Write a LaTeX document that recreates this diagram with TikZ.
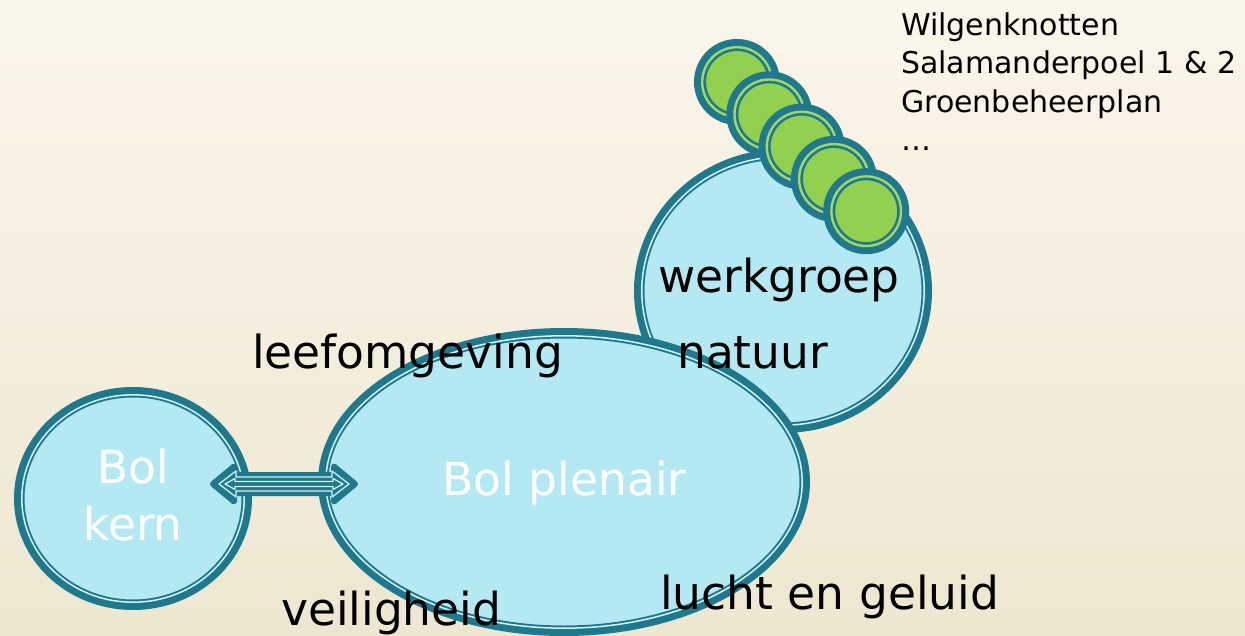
\documentclass[tikz,border=0pt]{standalone}
\usepackage{fontspec}
\setmainfont{DejaVu Sans}
\usetikzlibrary{shapes.geometric,calc}
\definecolor{bgtop}{RGB}{251,246,235}
\definecolor{bgbot}{RGB}{237,231,209}
\definecolor{tealring}{RGB}{31,120,139}
\definecolor{bluefill}{RGB}{180,233,244}
\definecolor{ringlight}{RGB}{212,244,250}
\definecolor{leaf}{RGB}{146,208,80}
\begin{document}
\begin{tikzpicture}[x=1pt,y=-1pt,
  bubble/.style={ellipse, inner sep=0pt, outer sep=0pt, fill=bluefill, draw=tealring, line width=10.5pt},
  seed/.style={circle, inner sep=0pt, outer sep=0pt, fill=leaf, draw=tealring, line width=12pt, minimum size=74pt},
  innerring/.style={draw=ringlight, line width=1.5pt},
  seedring/.style={draw=leaf!85!white, line width=2.4pt},
  bigtext/.style={font=\fontsize{45.5}{57}\selectfont, inner sep=0pt},
  whitetext/.style={bigtext, text=white},
  blacktext/.style={bigtext, text=black},
  listtext/.style={font=\fontsize{30}{38.5}\selectfont, inner sep=0pt, align=left, text=black},
  arrowbody/.style={draw=tealring, fill=tealring, line width=6pt, line join=round},
  arrowline/.style={draw=ringlight, line width=1.3pt, line join=round}
]
% background
\shade[top color=bgtop, bottom color=bgbot] (0pt,0pt) rectangle (1245pt,-636pt);
\useasboundingbox (0pt,0pt) rectangle (1245pt,-636pt);

% werkgroep natuur ellipse
\node[bubble, minimum width=287.5pt, minimum height=273.5pt] (werk) at (783,291) {};
\draw[innerring] (werk.center) ellipse[x radius=141.2pt, y radius=134.2pt];

% green seeds
\foreach \i in {0,...,4} {
  \node[seed] (g\i) at ({737+32.3*\i},{82+32.3*\i}) {};
  \draw[seedring] (g\i.center) circle[radius=34.8pt];
}

% Bol plenair
\node[bubble, minimum width=481.5pt, minimum height=297.5pt] (plen) at (564,482) {};
\draw[innerring] (plen.center) ellipse[x radius=238.2pt, y radius=146.2pt];

% Bol kern
\node[bubble, minimum width=227.5pt, minimum height=212.5pt] (kern) at (133,498.5) {};
\draw[innerring] (kern.center) ellipse[x radius=111.2pt, y radius=103.7pt];

% double arrow between kern and plenair
\coordinate (aL) at ($(kern.center)+(80,-14.5)$);
\coordinate (aR) at ($(plen.center)+(-209,2)$);
\coordinate (hL) at ($(aL)+(21,0)$);
\coordinate (hR) at ($(aR)+(-21,0)$);
\draw[arrowbody] (aL) -- ($(hL)+(0,-17.5)$) -- ($(hL)+(0,-9)$) -- ($(hR)+(0,-9)$)
  -- ($(hR)+(0,-17.5)$) -- (aR) -- ($(hR)+(0,17.5)$) -- ($(hR)+(0,9)$)
  -- ($(hL)+(0,9)$) -- ($(hL)+(0,17.5)$) -- cycle;
\draw[arrowline] ($(aL)+(6,0)$) -- ($(hL)+(2,-13)$) -- ($(hL)+(2,-7)$) -- ($(hR)+(-2,-7)$)
  -- ($(hR)+(-2,-13)$) -- ($(aR)+(-6,0)$) -- ($(hR)+(-2,13)$) -- ($(hR)+(-2,7)$)
  -- ($(hL)+(2,7)$) -- ($(hL)+(2,13)$) -- cycle;
\draw[arrowline] ($(aL)+(12,0)$) -- ($(hL)+(1,-5.5)$) -- ($(hL)+(1,-2.5)$) -- ($(hR)+(-1,-2.5)$)
  -- ($(hR)+(-1,-5.5)$) -- ($(aR)+(-12,0)$) -- ($(hR)+(-1,5.5)$) -- ($(hR)+(-1,2.5)$)
  -- ($(hL)+(1,2.5)$) -- ($(hL)+(1,5.5)$) -- cycle;

% texts
\node[whitetext, align=center, anchor=base] (kerntext) at (133,540) {Bol\\kern};
\node[whitetext, anchor=base] (plentext) at (564.5,495) {Bol plenair};
\node[blacktext, anchor=base west] (werktext) at (658,293) {werkgroep};
\node[blacktext, anchor=base west] (natuurtext) at (677,368) {natuur};
\node[blacktext, anchor=base west] (leeftext) at (252,368) {leefomgeving};
\node[blacktext, anchor=base west] (veiltext) at (281,625) {veiligheid};
\node[blacktext, anchor=base west] (luchttext) at (660,609) {lucht en geluid};
\node[listtext, anchor=base west] (list) at (901,151) {Wilgenknotten\\Salamanderpoel 1 \& 2\\Groenbeheerplan\\…};
\end{tikzpicture}
\end{document}
